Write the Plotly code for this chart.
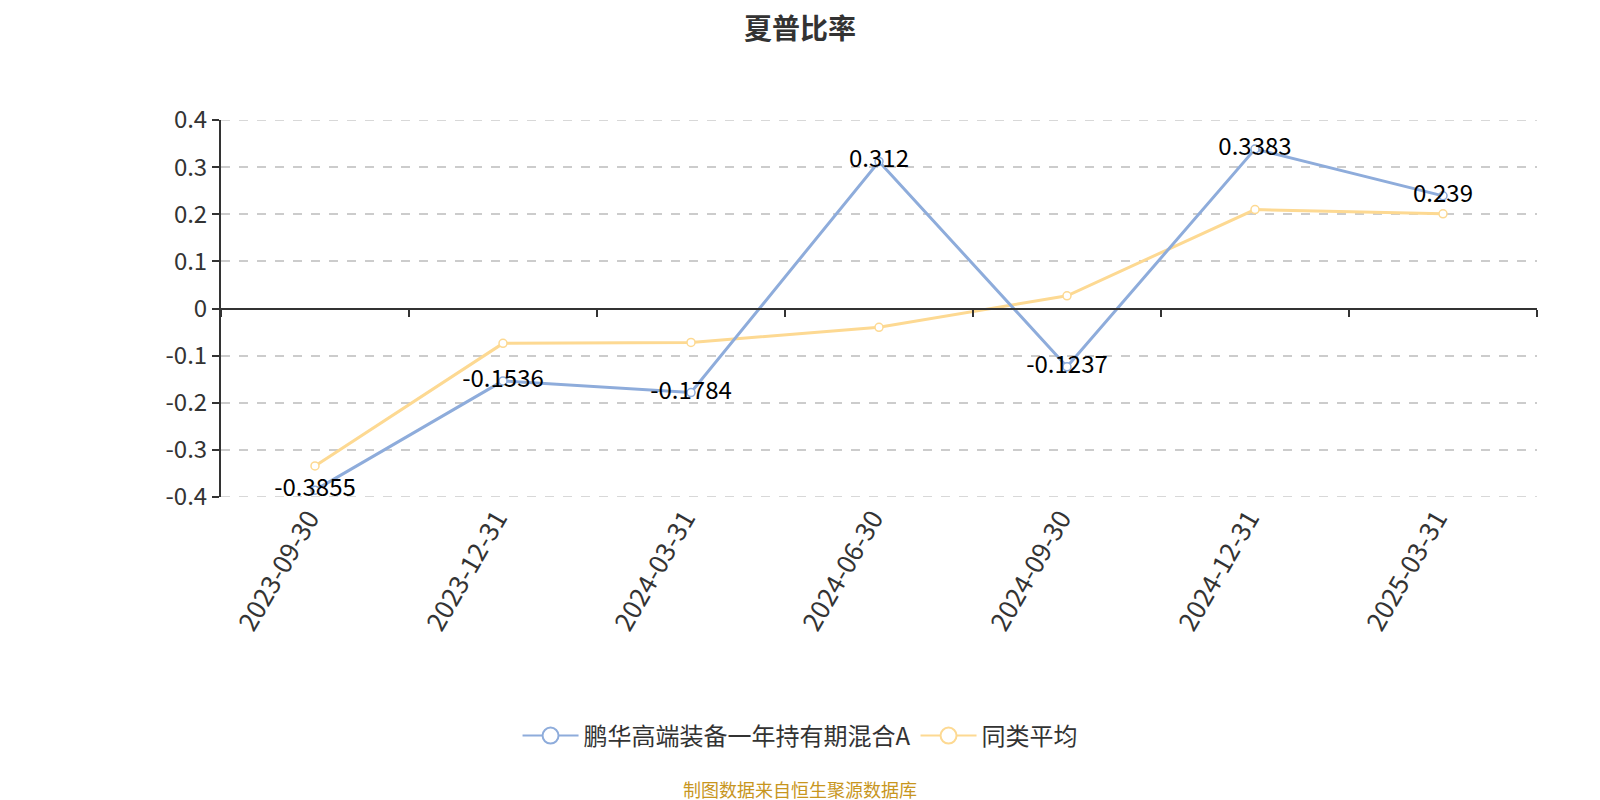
import plotly.graph_objects as go

dates = ["2023-09-30", "2023-12-31", "2024-03-31", "2024-06-30", "2024-09-30", "2024-12-31", "2025-03-31"]
fund_name = "鹏华高端装备一年持有期混合A"
fund_values = [-0.3855, -0.1536, -0.1784, 0.312, -0.1237, 0.3383, 0.239]
avg_name = "同类平均"
avg_values = [-0.334, -0.074, -0.072, -0.040, 0.027, 0.210, 0.201]
y_ticks = [-0.4, -0.3, -0.2, -0.1, 0, 0.1, 0.2, 0.3, 0.4]
y_tick_text = ["-0.4", "-0.3", "-0.2", "-0.1", "0", "0.1", "0.2", "0.3", "0.4"]

BLUE = "#8eacdb"
YELLOW = "#fdd992"
FONT = "Noto Sans CJK SC"
GRID = "#cccccc"

fig = go.Figure()
fig.add_trace(go.Scatter(
    x=dates, y=avg_values, name=avg_name, mode="lines+markers",
    line=dict(color=YELLOW, width=3),
    marker=dict(symbol="circle", size=8, color="white", line=dict(color=YELLOW, width=1.5)),
    showlegend=False,
))
fig.add_trace(go.Scatter(
    x=dates, y=fund_values, name=fund_name, mode="lines+markers+text",
    line=dict(color=BLUE, width=3),
    marker=dict(symbol="circle", size=8, color="white", line=dict(color=BLUE, width=1.5)),
    text=[str(v) for v in fund_values], textposition="middle center",
    textfont=dict(color="#000000", size=24, family=FONT),
    showlegend=False,
))
# legend entries (no data)
for nm, col, rank in [(fund_name, BLUE, 1), (avg_name, YELLOW, 2)]:
    fig.add_trace(go.Scatter(
        x=[None], y=[None], name=nm, mode="lines+markers",
        line=dict(color=col, width=2),
        marker=dict(symbol="circle", size=22, color="white", line=dict(color=col, width=2)),
        legendrank=rank, hoverinfo="skip",
    ))
# carrier for the zero-position axis line
fig.add_trace(go.Scatter(x=[None], y=[None], xaxis="x2", showlegend=False, hoverinfo="skip"))

# dashed grid lines at the range ends (plotly skips those)
shapes = [dict(type="line", xref="paper", yref="y", x0=0, x1=1, y0=v, y1=v,
               line=dict(color=GRID, width=1.5, dash="dash"), layer="below")
          for v in (y_ticks[0], y_ticks[-1])]

fig.update_layout(
    width=1600, height=800,
    paper_bgcolor="white", plot_bgcolor="white",
    margin=dict(l=213, r=71, t=112, b=311, autoexpand=False),
    font=dict(family=FONT, color="#333333"),
    title=dict(text="<b>夏普比率</b>", x=0.495, xanchor="center", y=1 - 21 / 800, yanchor="middle",
               font=dict(size=28, color="#333333", family=FONT)),
    showlegend=True,
    legend=dict(orientation="h", x=0.44, xanchor="center", y=-0.634, yanchor="middle",
                font=dict(size=24, color="#333333", family=FONT), itemsizing="trace",
                itemwidth=56, traceorder="normal"),
    xaxis=dict(type="category", range=[-0.5, 6.5], showline=False, showgrid=False, zeroline=False,
               ticks="", tickangle=-60, automargin=False, ticklabelshift=-6,
               tickfont=dict(size=26, color="#333333", family=FONT)),
    xaxis2=dict(overlaying="x", anchor="free", position=0.5, range=[-0.5, 6.5], automargin=False,
                showline=True, linecolor="#333333", linewidth=2, showgrid=False, zeroline=False,
                ticks="outside", ticklen=7, tickwidth=2, tickcolor="#333333",
                tickmode="array", tickvals=[-0.5 + i for i in range(8)], showticklabels=False),
    yaxis=dict(range=[-0.4, 0.4], domain=[0, 1], tickmode="array", tickvals=y_ticks, ticktext=y_tick_text,
               showline=True, linecolor="#333333", linewidth=2, ticks="outside", ticklen=7, tickwidth=2,
               tickcolor="#333333", showgrid=True, gridcolor=GRID, griddash="dash", gridwidth=1.5,
               zeroline=False, automargin=False, tickfont=dict(size=24, color="#333333", family=FONT)),
    shapes=shapes,
    annotations=[dict(text="制图数据来自恒生聚源数据库", xref="paper", yref="paper", x=0.44, y=-0.7745,
                      xanchor="center", yanchor="middle", showarrow=False,
                      font=dict(size=18, color="#c8961e", family=FONT))],
)

fig.write_html("out.html")
